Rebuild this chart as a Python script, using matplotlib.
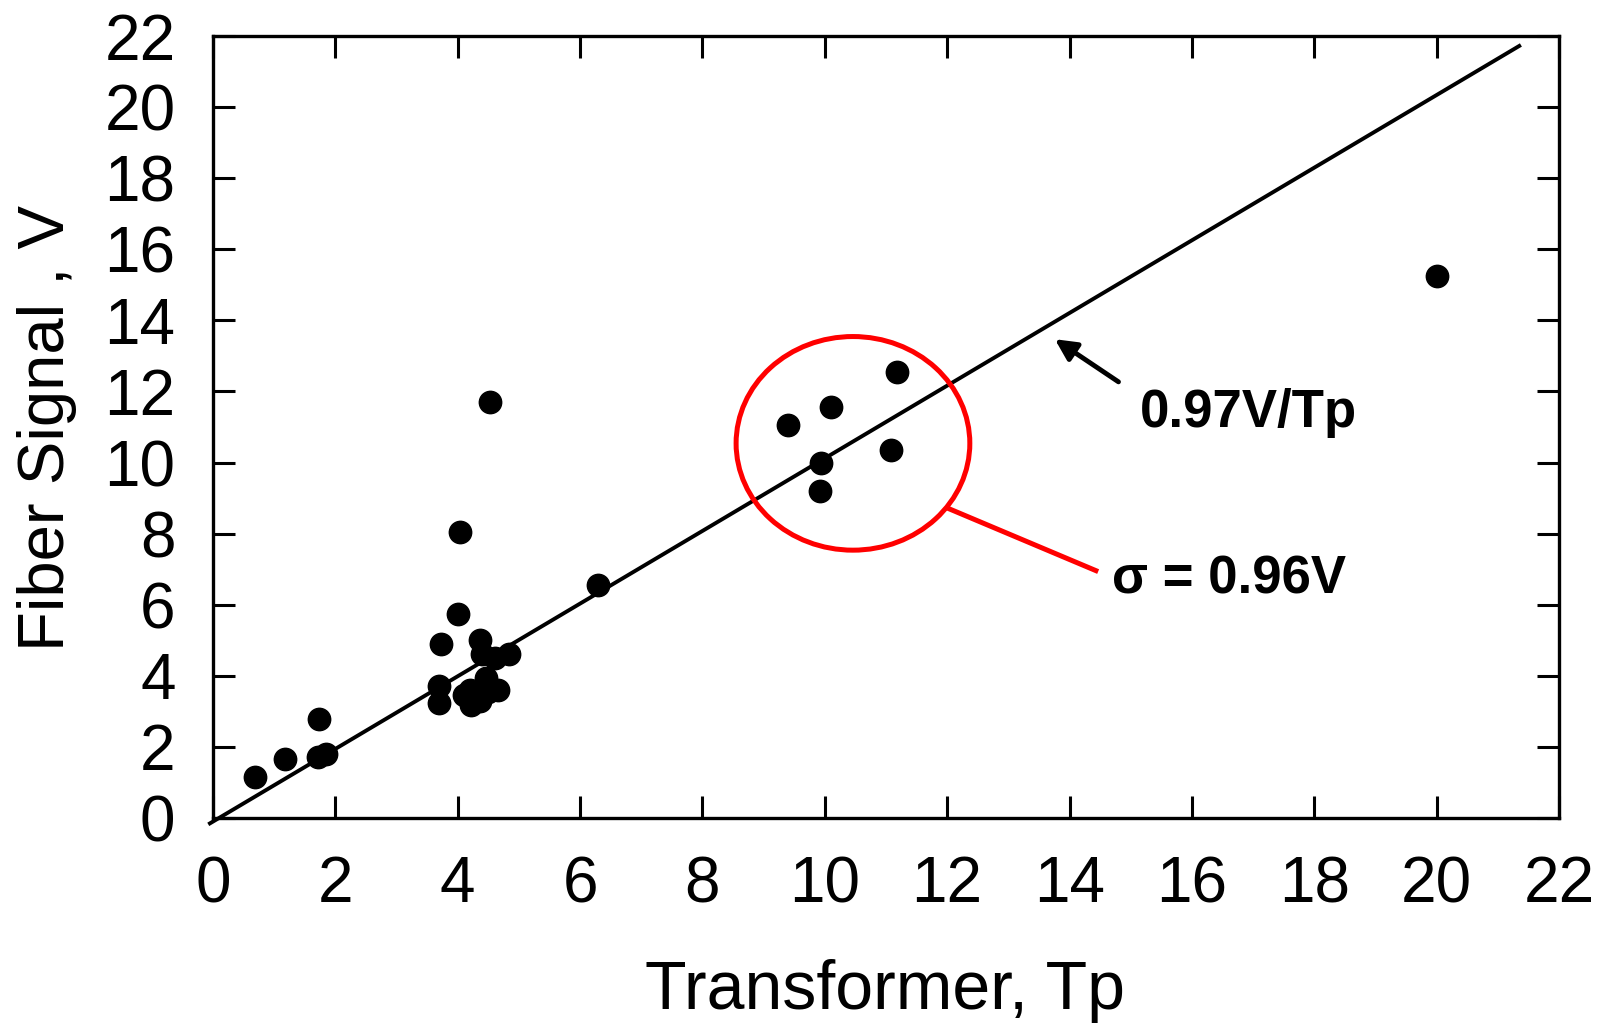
import numpy as np
import matplotlib.pyplot as plt
from matplotlib.patches import Ellipse

plt.rcParams['font.family'] = ['Liberation Sans', 'DejaVu Sans']

# measured points: transformer reading (Tp) vs fiber signal (V)
transformer = [0.68, 1.18, 1.74, 1.72, 1.85,
               3.72, 3.69, 3.69, 4.00, 4.04, 4.52,
               4.36, 4.39, 4.61, 4.84,
               4.10, 4.20, 4.22, 4.36, 4.47, 4.50, 4.66,
               6.30,
               9.40, 9.92, 9.94, 10.10, 11.08, 11.18,
               20.0]
fiber = [1.15, 1.65, 2.79, 1.72, 1.79,
         4.89, 3.72, 3.23, 5.73, 8.06, 11.70,
         5.00, 4.60, 4.49, 4.60,
         3.45, 3.60, 3.18, 3.30, 3.95, 3.55, 3.60,
         6.55,
         11.06, 9.21, 9.98, 11.55, 10.35, 12.54,
         15.25]

# fitted line
fit_slope = 1.022
fit_icpt = -0.1
fit_x = np.array([-0.05, 21.35])

ticks = np.arange(0, 23, 2)

fig = plt.figure(figsize=(16.18, 10.23), dpi=100)
ax = fig.add_axes([213/1618, 1 - 818/1023, (1559 - 213)/1618, (818 - 36)/1023])

ax.plot(fit_x, fit_icpt + fit_slope * fit_x, color='black', lw=2.8,
        clip_on=False, zorder=2)
ax.scatter(transformer, fiber, s=260, color='black', zorder=3)

ax.add_patch(Ellipse((10.46, 10.54), 3.82, 6.01, fill=False,
                     ec='red', lw=3.6, zorder=4))
ax.plot([12.03, 14.43], [8.70, 6.96], color='red', lw=3.6)

ax.annotate('', xy=(13.76, 13.47), xytext=(14.80, 12.27),
            arrowprops=dict(arrowstyle='-|>', lw=3.5, color='black',
                            mutation_scale=32, shrinkA=0, shrinkB=0))
ax.text(15.15, 11.0, '0.97V/Tp', fontsize=38, fontweight='bold',
        va='baseline', ha='left')
ax.text(14.69, 6.32, 'σ = 0.96V', fontsize=38, fontweight='bold',
        va='baseline', ha='left')

ax.set_xlim(0, 22)
ax.set_ylim(0, 22)
ax.set_xticks(ticks)
ax.set_yticks(ticks)
ax.tick_params(direction='in', length=16, width=2.2, top=True, right=True,
               labelsize=46, pad=27)
for sp in ax.spines.values():
    sp.set_linewidth(2.4)

fig.text(885/1618, 1 - 1009/1023, 'Transformer, Tp', fontsize=49,
         ha='center', va='baseline')
fig.text(47/1618, 1 - 428/1023, 'Fiber Signal , V', fontsize=47,
         ha='center', va='center', rotation=90)

fig.savefig('out.png', dpi=100)
